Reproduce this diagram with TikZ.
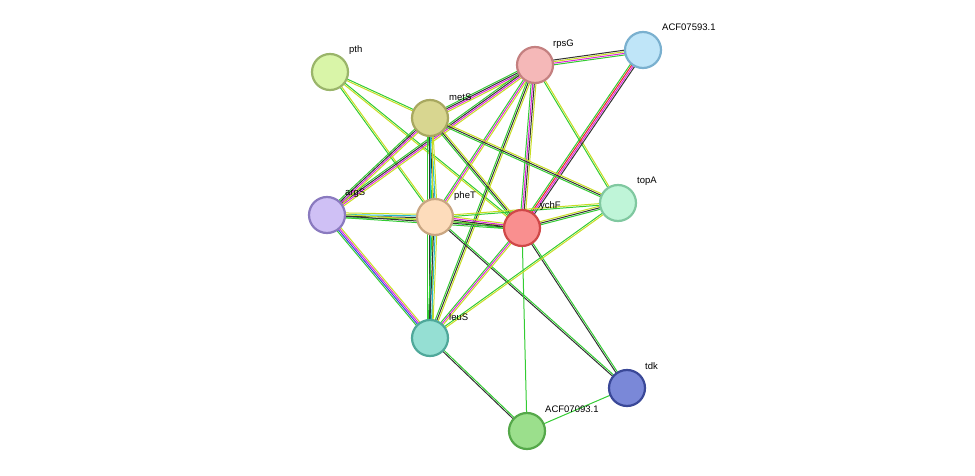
\documentclass[tikz,border=0pt]{standalone}
\usepackage{fontspec}
\setmainfont{Liberation Sans}
\usetikzlibrary{calc,backgrounds}
\definecolor{eg}{HTML}{33CC33}
\definecolor{ek}{HTML}{333333}
\definecolor{em}{HTML}{DD22DD}
\definecolor{ec}{HTML}{22BBCC}
\definecolor{ey}{HTML}{C8DD22}
\definecolor{er}{HTML}{EE2222}
\definecolor{eb}{HTML}{3344DD}
\definecolor{f1}{HTML}{D9F5A8}\definecolor{d1}{HTML}{9AB56A}
\definecolor{f2}{HTML}{F5B8B8}\definecolor{d2}{HTML}{C48080}
\definecolor{f3}{HTML}{BFE5F8}\definecolor{d3}{HTML}{7AB0CF}
\definecolor{f4}{HTML}{D8D690}\definecolor{d4}{HTML}{A8A860}
\definecolor{f5}{HTML}{CFC0F5}\definecolor{d5}{HTML}{8A7ABF}
\definecolor{f6}{HTML}{FDDCBB}\definecolor{d6}{HTML}{C9A682}
\definecolor{f7}{HTML}{F98F8F}\definecolor{d7}{HTML}{D04848}
\definecolor{f8}{HTML}{BFF5D8}\definecolor{d8}{HTML}{80C8A0}
\definecolor{f9}{HTML}{95DFD3}\definecolor{d9}{HTML}{4FA89A}
\definecolor{f10}{HTML}{7A88D8}\definecolor{d10}{HTML}{3A4898}
\definecolor{f11}{HTML}{9BDF8C}\definecolor{d11}{HTML}{55A84A}
\tikzset{
  prot/.style={circle,minimum size=36pt,inner sep=0pt,line width=2.2pt,fill=f#1,draw=d#1},
  lab/.style={anchor=west,font=\fontsize{9.5pt}{11pt}\selectfont,inner sep=0pt},
  edge/.style={line width=1pt}
}
\newcommand{\E}[4]{%
  \foreach \cc [count=\i] in {#4}{%
    \pgfmathsetmacro{\off}{(\i-(#3+1)/2)*1.6}%
    \draw[edge,\cc] ($(#1)!\off pt!90:(#2)$) -- ($(#2)!\off pt!-90:(#1)$);%
  }}
\begin{document}
\begin{tikzpicture}[x=1pt,y=-1pt]
\useasboundingbox (0,0) rectangle (975,476);
\node[prot=1] (pth) at (330,72) {};
\node[prot=2] (rpsG) at (535,65) {};
\node[prot=3] (acf5) at (643,50) {};
\node[prot=4] (metS) at (430,118) {};
\node[prot=5] (argS) at (327,215) {};
\node[prot=6] (pheT) at (435,217) {};
\node[prot=7] (ychF) at (522,228) {};
\node[prot=8] (topA) at (618,203) {};
\node[prot=9] (leuS) at (430,338) {};
\node[prot=10] (tdk) at (627,388) {};
\node[prot=11] (acf0) at (527,431) {};
\node[lab] (l1) at (349,50) {pth};
\node[lab] (l2) at (553,44) {rpsG};
\node[lab] (l3) at (662,27) {ACF07593.1};
\node[lab] (l4) at (449,97) {metS};
\node[lab] (l5) at (345,193) {argS};
\node[lab] (l6) at (454,196) {pheT};
\node[lab] (l7) at (540,206) {ychF};
\node[lab] (l8) at (637,181) {topA};
\node[lab] (l9) at (449,317) {leuS};
\node[lab] (l10) at (645,366) {tdk};
\node[lab] (l11) at (545,409) {ACF07093.1};
\begin{scope}[on background layer]
\E{pth}{metS}{2}{ey,eg}
\E{pth}{pheT}{2}{eg,ey}
\E{pth}{ychF}{2}{ey,eg}
\E{rpsG}{acf5}{4}{eg,em,ey,ek}
\E{rpsG}{metS}{4}{eg,ek,em,ey}
\E{rpsG}{argS}{4}{eg,ek,em,ey}
\E{rpsG}{pheT}{3}{eg,em,ey}
\E{rpsG}{ychF}{4}{eg,em,ek,ey}
\E{rpsG}{topA}{2}{eg,ey}
\E{rpsG}{leuS}{3}{eg,ek,ey}
\E{acf5}{ychF}{4}{eg,er,em,ek}
\E{metS}{argS}{4}{eg,ek,em,ey}
\E{metS}{pheT}{4}{eg,ek,ec,ey}
\E{metS}{leuS}{4}{eg,ek,ec,ey}
\E{metS}{ychF}{3}{eg,ek,ey}
\E{metS}{topA}{3}{eg,ek,ey}
\E{argS}{pheT}{4}{eg,ek,ec,ey}
\E{argS}{ychF}{3}{eg,ek,ey}
\E{argS}{leuS}{4}{eg,eb,em,ey}
\E{pheT}{ychF}{4}{eg,ek,em,ey}
\E{pheT}{leuS}{4}{eg,ek,ec,ey}
\E{pheT}{topA}{2}{eg,ey}
\E{pheT}{tdk}{2}{ek,eg}
\E{ychF}{topA}{3}{eg,ek,ey}
\E{ychF}{leuS}{3}{eg,em,ey}
\E{ychF}{tdk}{2}{ek,eg}
\E{ychF}{acf0}{1}{eg}
\E{topA}{leuS}{2}{eg,ey}
\E{leuS}{acf0}{2}{ek,eg}
\E{tdk}{acf0}{1}{eg}
\end{scope}
\end{tikzpicture}
\end{document}
